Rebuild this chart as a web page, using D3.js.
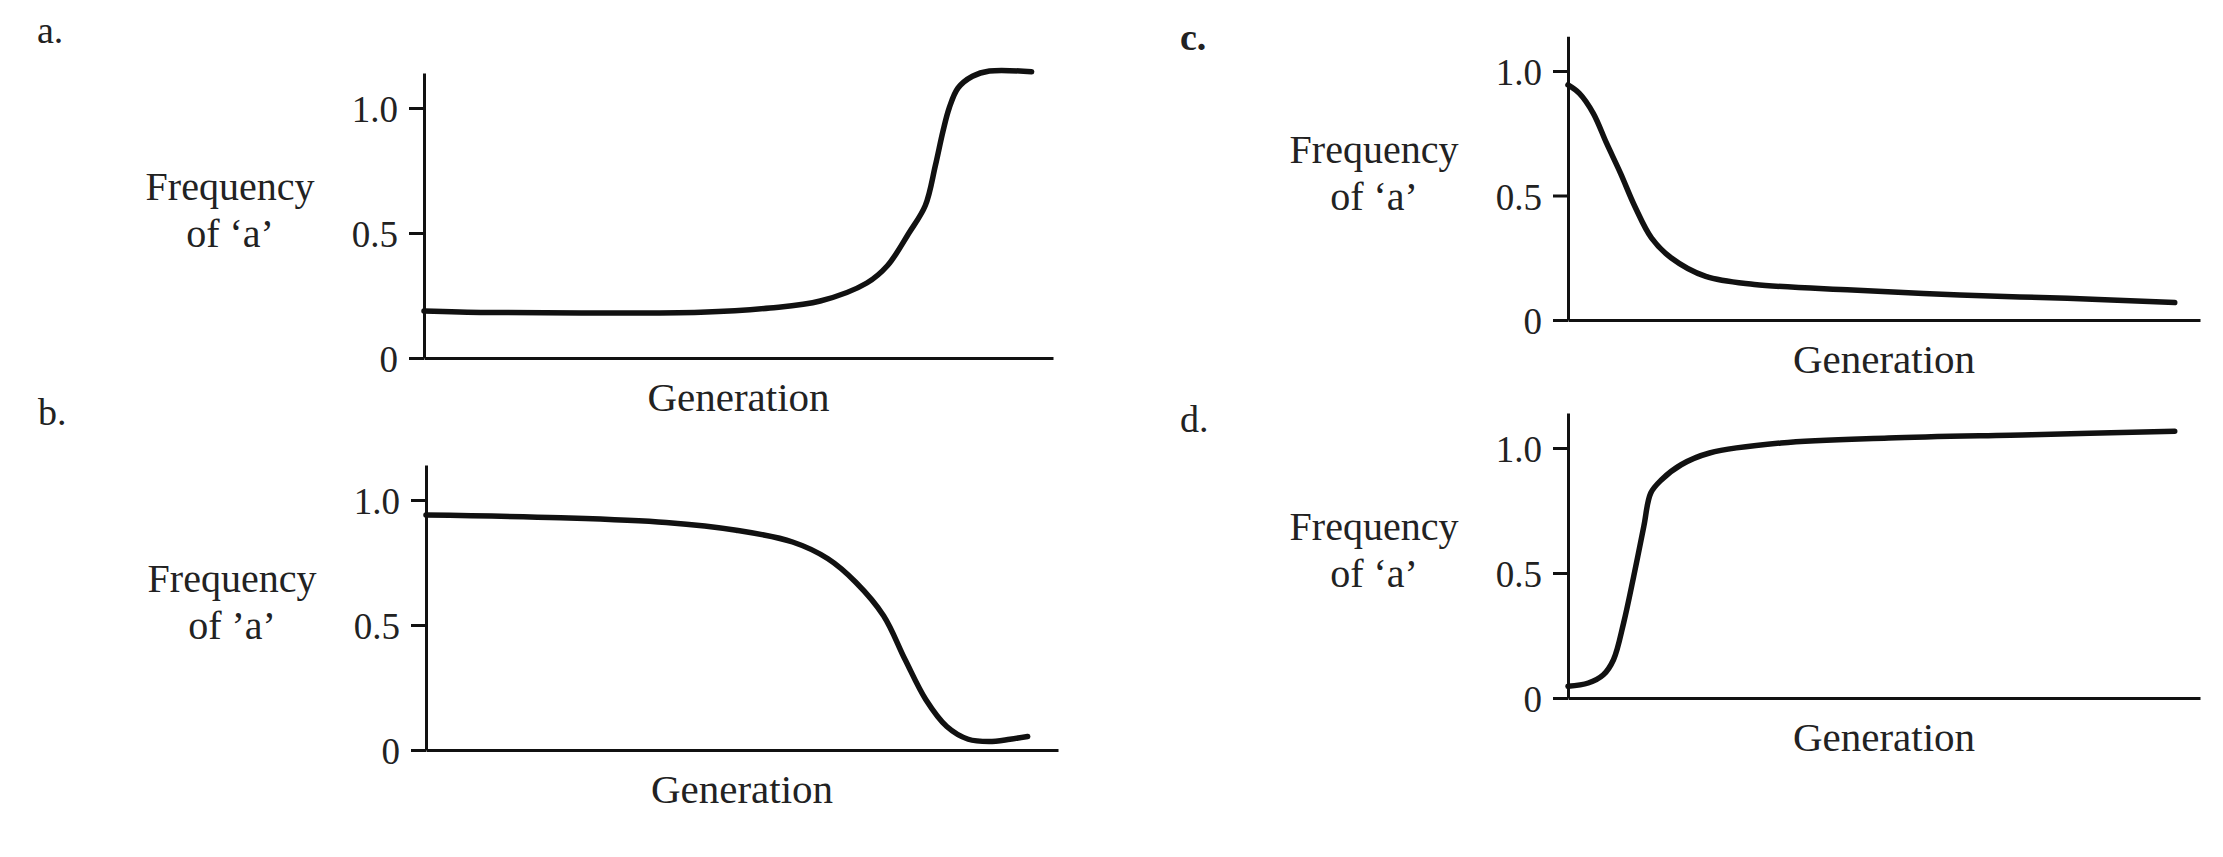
<!DOCTYPE html>
<html>
<head>
<meta charset="utf-8">
<script src="https://cdn.jsdelivr.net/npm/d3@7"></script>
<style>
  html, body { margin: 0; padding: 0; background: #fff; }
  svg { display: block; }
</style>
</head>
<body>
<svg id="chart" width="2223" height="857"></svg>
<script>
// ---- Data (generation as % of the plotted span, frequency of 'a') ----
const yTickValues = [0, 0.5, 1.0];
const yTickLabels = ["0", "0.5", "1.0"];
const xLabel = "Generation";
const yLabelLine1 = "Frequency";

const panelNames = ["a.", "b.", "c.", "d."];
const yLabelLine2 = ["of \u2018a\u2019", "of \u2019a\u2019", "of \u2018a\u2019", "of \u2018a\u2019"];

const genA  = [0, 10, 25, 44, 55, 63, 70.4, 73.7, 77.1, 79.7, 81.3, 82.5, 83.5, 84.9, 87.2, 89.9, 96.6];
const freqA = [0.188, 0.182, 0.180, 0.183, 0.200, 0.228, 0.30, 0.37, 0.50, 0.61, 0.77, 0.906, 1.0, 1.08, 1.127, 1.148, 1.145];

const genB  = [0, 21.3, 38, 49.1, 58, 63.6, 68, 72.4, 75.8, 79.1, 82.4, 85.8, 89.1, 92.4, 95.2];
const freqB = [0.94, 0.929, 0.91, 0.879, 0.832, 0.765, 0.671, 0.537, 0.362, 0.201, 0.094, 0.043, 0.034, 0.043, 0.054];

const genC  = [0, 1.8, 4.0, 6.1, 8.3, 10.6, 13.2, 16.3, 21.8, 29.5, 45, 62, 79, 96];
const freqC = [0.944, 0.91, 0.83, 0.71, 0.59, 0.455, 0.33, 0.25, 0.175, 0.143, 0.12, 0.10, 0.087, 0.07];

const genD  = [0, 3.2, 5.6, 7.2, 8.8, 10.4, 12.0, 13.1, 14.8, 17.9, 22.4, 33.7, 50.7, 73.4, 96];
const freqD = [0.047, 0.06, 0.093, 0.153, 0.30, 0.487, 0.687, 0.82, 0.873, 0.933, 0.98, 1.02, 1.04, 1.053, 1.067];

const seriesGen  = [genA, genB, genC, genD];
const seriesFreq = [freqA, freqB, freqC, freqD];

// ---- Layout (pixel geometry per panel) ----
const layout = [
  { x0: 424,  x1: 1053, y0: 358, unit: 250, lx: 37,   ly: 43,  bold: false },
  { x0: 426,  x1: 1058, y0: 750, unit: 250, lx: 38,   ly: 425, bold: false },
  { x0: 1568, x1: 2200, y0: 320, unit: 249, lx: 1180, ly: 50,  bold: true  },
  { x0: 1568, x1: 2200, y0: 698, unit: 250, lx: 1180, ly: 432, bold: false }
];
const yTop = 1.14;
const ink = "#111";
const FONT = "'Liberation Serif', 'Times New Roman', Times, serif";

const svg = d3.select("#chart");

layout.forEach((L, i) => {
  const g = svg.append("g");
  const x = d3.scaleLinear().domain([0, 100]).range([L.x0, L.x1]);
  const y = d3.scaleLinear().domain([0, yTop]).range([L.y0, L.y0 - L.unit * yTop]);

  // y axis
  const yAxis = d3.axisLeft(y)
    .tickValues(yTickValues)
    .tickFormat((d, k) => yTickLabels[k])
    .tickSizeInner(15)
    .tickSizeOuter(0)
    .tickPadding(11);
  const ya = g.append("g").attr("transform", `translate(${L.x0},0)`).call(yAxis);
  ya.select(".domain").attr("stroke", ink).attr("stroke-width", 3);
  ya.selectAll(".tick line").attr("stroke", ink).attr("stroke-width", 3);
  ya.selectAll(".tick text")
    .attr("fill", "#222")
    .attr("font-family", FONT)
    .attr("font-size", 37)
    .attr("dy", "0.37em");

  // x axis (no ticks)
  const xAxis = d3.axisBottom(x).tickValues([]).tickSizeOuter(0);
  const xa = g.append("g").attr("transform", `translate(0,${L.y0})`).call(xAxis);
  xa.select(".domain").attr("stroke", ink).attr("stroke-width", 3);

  // curve
  const pts = seriesGen[i].map((gv, k) => [gv, seriesFreq[i][k]]);
  const line = d3.line()
    .x(d => x(d[0]))
    .y(d => y(d[1]))
    .curve(d3.curveCatmullRom.alpha(0.5));
  g.append("path")
    .datum(pts)
    .attr("d", line)
    .attr("fill", "none")
    .attr("stroke", ink)
    .attr("stroke-width", 5.5)
    .attr("stroke-linecap", "round")
    .attr("stroke-linejoin", "round");

  // y label (two lines)
  const ymid = y(0.5);
  const ylx = L.x0 - 194;
  g.append("text")
    .attr("x", ylx).attr("y", ymid - 33)
    .attr("text-anchor", "middle")
    .attr("font-family", FONT).attr("font-size", 40).attr("fill", "#222")
    .text(yLabelLine1);
  g.append("text")
    .attr("x", ylx).attr("y", ymid + 14)
    .attr("text-anchor", "middle")
    .attr("font-family", FONT).attr("font-size", 40).attr("fill", "#222")
    .text(yLabelLine2[i]);

  // x label
  g.append("text")
    .attr("x", (L.x0 + L.x1) / 2).attr("y", L.y0 + 53)
    .attr("text-anchor", "middle")
    .attr("font-family", FONT).attr("font-size", 41).attr("fill", "#222")
    .text(xLabel);

  // panel letter
  g.append("text")
    .attr("x", L.lx).attr("y", L.ly)
    .attr("font-family", FONT).attr("font-size", 38)
    .attr("font-weight", L.bold ? "bold" : "normal")
    .attr("fill", "#222")
    .text(panelNames[i]);
});
</script>
</body>
</html>
